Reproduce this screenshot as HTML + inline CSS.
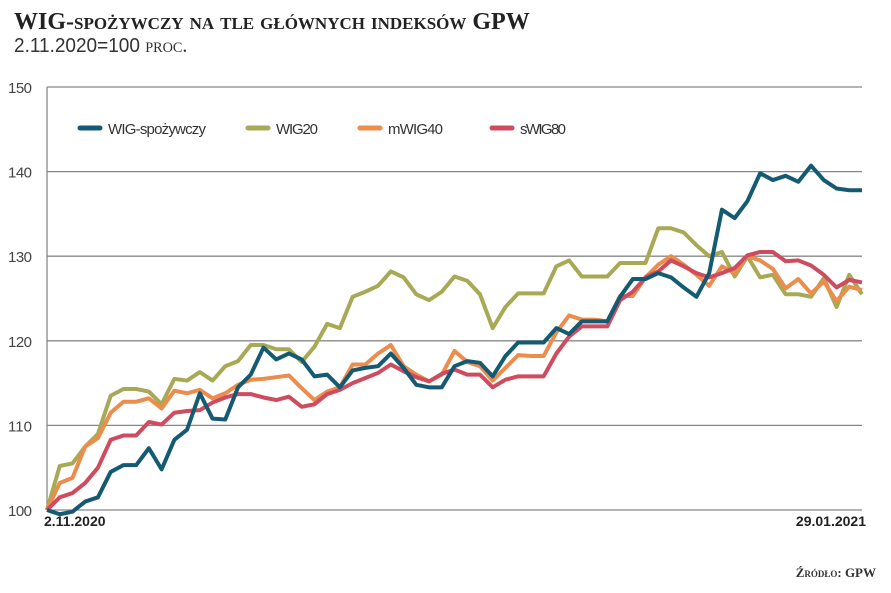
<!DOCTYPE html>
<html><head><meta charset="utf-8"><style>
body{margin:0;background:#fff;width:891px;height:593px;overflow:hidden;font-family:"Liberation Sans",sans-serif}
.t{position:absolute;left:14px;top:9px;font:bold 24px "Liberation Serif",serif;font-variant:small-caps;color:#222;letter-spacing:0px;white-space:nowrap}
.s{position:absolute;left:14px;top:33px;font:20px "Liberation Sans Narrow","Liberation Sans",sans-serif;color:#333;transform:scaleX(0.95);transform-origin:left;white-space:nowrap}
.s span{font-variant:small-caps;font-family:"Liberation Serif",serif;font-size:21px}
</style></head><body>
<div class="t">WIG-spożywczy na tle głównych indeksów GPW</div>
<div class="s">2.11.2020=100 <span>proc.</span></div>
<svg id="c" width="891" height="593" style="position:absolute;left:0;top:0"></svg>
<script>
const yTicks=[100,110,120,130,140,150];
const xLabels=["2.11.2020","29.01.2021"];
const seriesNames=["WIG-spożywczy","WIG20","mWIG40","sWIG80"];
const colors=["#145a72","#a8a955","#ec8c4d","#cf4b5e"];
const wigSpoz=[100,99.5,99.8,101,101.5,104.5,105.3,105.3,107.3,104.8,108.3,109.5,113.8,110.8,110.7,114.5,116,119.2,117.8,118.5,117.8,115.8,116,114.5,116.5,116.8,117,118.5,116.8,114.8,114.5,114.5,117,117.6,117.4,115.8,118.2,119.8,119.8,119.8,121.5,120.8,122.3,122.3,122.3,125.2,127.3,127.3,128,127.5,126.3,125.2,128,135.5,134.5,136.5,139.8,139,139.5,138.8,140.7,139,138,137.8,137.8];
const wig20=[100,105.2,105.5,107.5,109,113.5,114.3,114.3,114,112.5,115.5,115.3,116.3,115.3,117,117.6,119.5,119.5,119,119,117.5,119.3,122,121.5,125.2,125.8,126.5,128.2,127.5,125.5,124.8,125.8,127.6,127.1,125.5,121.5,124,125.6,125.6,125.6,128.8,129.5,127.6,127.6,127.6,129.2,129.2,129.2,133.3,133.3,132.8,131.3,130,130.5,127.6,130,127.5,127.8,125.5,125.5,125.2,127.4,124,127.8,125.5];
const mwig40=[100,103.2,103.8,107.5,108.5,111.5,112.8,112.8,113.2,112,114.1,113.8,114.2,113.2,113.8,114.8,115.4,115.5,115.7,115.9,114.4,113,114,114.5,117.2,117.2,118.5,119.5,117,116,115.2,116,118.8,117.5,117,115.3,116.8,118.3,118.2,118.2,121,123,122.5,122.5,122.3,125.3,125.3,127.5,129,130,129,127.8,126.5,128.8,128,130,129.5,128.5,126.2,127.3,125.6,127,124.7,126.4,126];
const swig80=[100,101.5,102,103.2,105,108.3,108.8,108.8,110.4,110.1,111.5,111.7,111.8,112.7,113.3,113.7,113.7,113.3,113,113.4,112.2,112.5,113.7,114.2,115,115.6,116.2,117.2,116.4,115.7,115.2,116.1,116.6,116,116,114.5,115.4,115.8,115.8,115.8,118.5,120.5,121.7,121.7,121.7,124.8,125.8,127.5,128.2,129.5,128.8,128,127.5,128,128.6,130.1,130.5,130.5,129.4,129.5,128.9,127.8,126.3,127.2,126.9];
const data=[wig20,mwig40,swig80,wigSpoz];
const dataColors=[colors[1],colors[2],colors[3],colors[0]];
const dataNames=["line-wig20","line-mwig40","line-swig80","line-wig-spozywczy"];
const NS="http://www.w3.org/2000/svg",svg=document.getElementById('c');
const X0=47,X1=862,Y0=510,Y1=87;
const y=v=>Y0-(v-100)/50*(Y0-Y1);
const x=(i,n)=>X0+i*(X1-X0)/(n-1);
function mk(t,a){const e=document.createElementNS(NS,t);for(const k in a)e.setAttribute(k,a[k]);svg.appendChild(e);return e;}
yTicks.forEach(v=>{
 const l=mk('line',{x1:X0,x2:X1,y1:y(v),y2:y(v),stroke:'#888','stroke-width':1.3});
 
 
 const t=mk('text',{x:8,y:y(v)+6,'font-size':15,fill:'#444',textLength:24,'font-family':'Liberation Sans Narrow, Liberation Sans, sans-serif'});
 t.textContent=v;
 
 
});
const ax=mk('line',{x1:X0,x2:X0,y1:Y1,y2:Y0,stroke:'#888','stroke-width':1.3});


data.forEach((d,k)=>{
 const p=mk('polyline',{points:d.map((v,i)=>x(i,d.length)+','+y(v)).join(' '),fill:'none',stroke:dataColors[k],'stroke-width':4,'stroke-linejoin':'round'});
 
 
});
const lx=[80,248,360,492];
const lw=[98,42,55,46];
seriesNames.forEach((n,k)=>{
 const l=mk('line',{x1:lx[k],x2:lx[k]+20,y1:128,y2:128,stroke:colors[k],'stroke-width':5,'stroke-linecap':'round'});
 
 
 const t=mk('text',{x:lx[k]+28,y:134,'font-size':15,fill:'#333',textLength:lw[k],'font-family':'Liberation Sans Narrow, Liberation Sans, sans-serif'});
 t.textContent=n;
 
 
});
const a=mk('text',{x:44,y:526,'font-size':14,'font-weight':'bold',fill:'#222'});
a.textContent=xLabels[0];


const b=mk('text',{x:866,y:526,'font-size':14,'font-weight':'bold',fill:'#222','text-anchor':'end'});
b.textContent=xLabels[1];


const s=mk('text',{x:876,y:577,'font-size':13,'font-weight':'bold',fill:'#333','text-anchor':'end','font-family':'Liberation Serif, serif','style':'font-variant:small-caps'});
s.textContent='Źródło: GPW';


</script>
</body></html>
